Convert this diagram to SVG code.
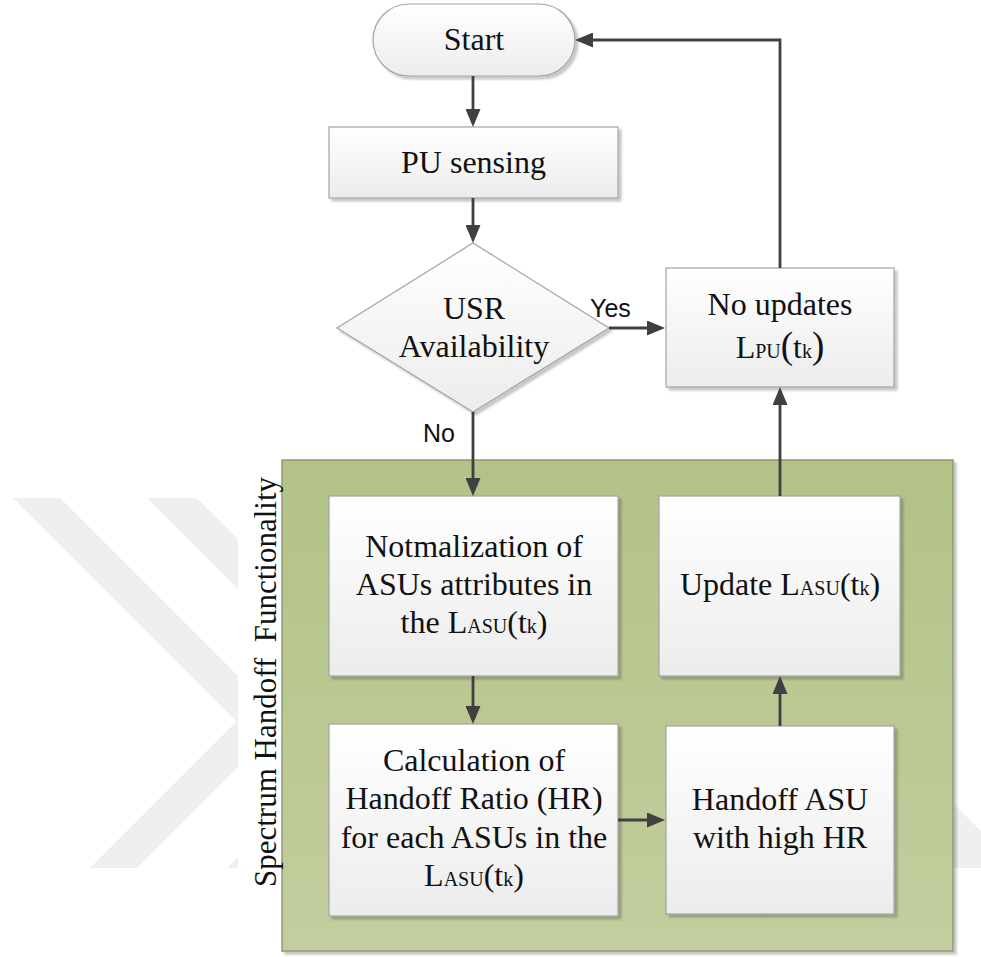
<svg xmlns="http://www.w3.org/2000/svg" width="981" height="957" viewBox="0 0 981 957">
  <defs>
    <linearGradient id="boxFill" x1="0" y1="0" x2="0" y2="1">
      <stop offset="0" stop-color="#ffffff"/>
      <stop offset="1" stop-color="#ececec"/>
    </linearGradient>
    <linearGradient id="panelFill" x1="0" y1="0" x2="0" y2="1">
      <stop offset="0" stop-color="#b3c287"/>
      <stop offset="1" stop-color="#c2ce9e"/>
    </linearGradient>
    <filter id="shadow" x="-10%" y="-10%" width="130%" height="130%">
      <feDropShadow dx="3" dy="3" stdDeviation="1.2" flood-color="#000" flood-opacity="0.22"/>
    </filter>
    <clipPath id="markClip">
      <rect x="0" y="498" width="238" height="370"/>
    </clipPath>
    <marker id="arrow" viewBox="0 0 18 15" refX="14" refY="7.5" markerWidth="18" markerHeight="15" markerUnits="userSpaceOnUse" orient="auto">
      <path d="M0,0 L18,7.5 L0,15 z" fill="#404040"/>
    </marker>
  </defs>
  <style>
    .box { fill: url(#boxFill); stroke: #a3a3a3; stroke-width: 1.2; filter: url(#shadow); }
    .lbl { font-family: "Liberation Serif", "Times New Roman", serif; font-size: 32px; fill: #111; text-anchor: middle; }
    .side { font-size: 31px; }
    .sm { font-size: 20px; }
    .big { font-size: 37px; }
    .yn { font-family: "Liberation Sans", Arial, sans-serif; font-size: 25px; fill: #111; }
    .conn { fill: none; stroke: #404040; stroke-width: 2.8; marker-end: url(#arrow); }
    .mark { fill: #efefef; }
  </style>

  <rect width="981" height="957" fill="#ffffff"/>

  <!-- faint background chevrons -->
  <g id="backdrop">
    <g clip-path="url(#markClip)">
      <polygon class="mark" points="13,498 60,498 283.5,721.5 137,868 90,868 236.5,721.5"/>
      <polygon class="mark" points="147,498 197,498 420.5,721.5 274,868 227,868 372,723"/>
    </g>
    <polygon class="mark" points="950,800 981,831 981,868 950,868"/>
  </g>

  <!-- spectrum handoff panel -->
  <g id="panel">
    <rect x="282" y="460" width="671" height="491" fill="url(#panelFill)" stroke="#8e9a72" stroke-width="1.5" filter="url(#shadow)"/>
    <text class="lbl side" transform="translate(276,682) rotate(-90)" xml:space="preserve">Spectrum Handoff  Functionality</text>
  </g>

  <g id="start">
    <rect class="box" x="373" y="4" width="202" height="72" rx="36" ry="36"/>
    <text class="lbl" x="474" y="50">Start</text>
  </g>

  <g id="pu-sensing">
    <rect class="box" x="329" y="127" width="289" height="71"/>
    <text class="lbl" x="473.5" y="173">PU sensing</text>
  </g>

  <g id="usr-availability">
    <polygon class="box" points="473,243 609,328 473,412 337,328"/>
    <text class="lbl" x="474" y="319">USR</text>
    <text class="lbl" x="474" y="357">Availability</text>
  </g>

  <g id="no-updates">
    <rect class="box" x="666" y="268" width="228" height="119"/>
    <text class="lbl" x="780" y="315">No updates</text>
    <text class="lbl" x="780" y="358">L<tspan class="sm">PU</tspan><tspan class="big">(</tspan>t<tspan class="sm">k</tspan><tspan class="big">)</tspan></text>
  </g>

  <g id="normalization">
    <rect class="box" x="329" y="496" width="289" height="180"/>
    <text class="lbl" x="474" y="557">Notmalization of</text>
    <text class="lbl" x="474" y="595">ASUs attributes in</text>
    <text class="lbl" x="474" y="633">the L<tspan class="sm">ASU</tspan>(t<tspan class="sm">k</tspan>)</text>
  </g>

  <g id="update-lasu">
    <rect class="box" x="659" y="496" width="241" height="180"/>
    <text class="lbl" x="780" y="595">Update L<tspan class="sm">ASU</tspan>(t<tspan class="sm">k</tspan>)</text>
  </g>

  <g id="calculation">
    <rect class="box" x="329" y="724" width="289" height="192"/>
    <text class="lbl" x="474" y="771">Calculation of</text>
    <text class="lbl" x="474" y="809">Handoff Ratio (HR)</text>
    <text class="lbl" x="474" y="848">for each ASUs in the</text>
    <text class="lbl" x="474" y="886">L<tspan class="sm">ASU</tspan>(t<tspan class="sm">k</tspan>)</text>
  </g>

  <g id="handoff-asu">
    <rect class="box" x="666" y="726" width="228" height="188"/>
    <text class="lbl" x="780" y="810">Handoff ASU</text>
    <text class="lbl" x="780" y="848">with high HR</text>
  </g>

  <g id="connectors">
    <path class="conn" d="M473,76 L473,123"/>
    <path class="conn" d="M473,198 L473,239"/>
    <path class="conn" d="M609,328 L661,328"/>
    <path class="conn" d="M473,412 L473,492"/>
    <path class="conn" d="M473,676 L473,720"/>
    <path class="conn" d="M618,820 L661,820"/>
    <path class="conn" d="M780,726 L780,680"/>
    <path class="conn" d="M780,496 L780,391"/>
    <path class="conn" d="M780,268 L780,40 L579,40"/>
    <text class="yn" x="590" y="317">Yes</text>
    <text class="yn" x="423" y="442">No</text>
  </g>
</svg>
